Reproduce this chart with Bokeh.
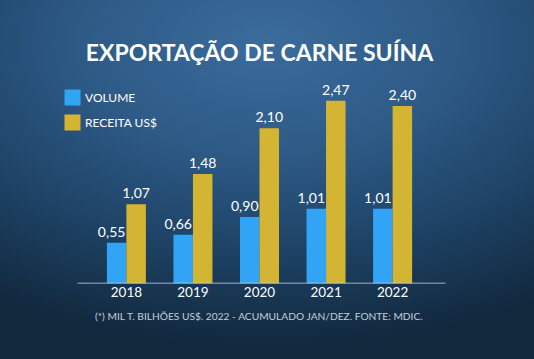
from bokeh.plotting import figure
from bokeh.models import (ColumnDataSource, LabelSet, Legend, LegendItem, Title,
                          FactorRange, Range1d, BoxAnnotation)
from bokeh.core.properties import value
from bokeh.transform import dodge
from bokeh.embed import file_html
from bokeh.resources import INLINE

years = ["2018", "2019", "2020", "2021", "2022"]
volume = [0.55, 0.66, 0.90, 1.01, 1.01]
receita = [1.07, 1.48, 2.10, 2.47, 2.40]

def fmt(v):
    return f"{v:.2f}".replace(".", ",")

source = ColumnDataSource(data=dict(
    years=years,
    volume=volume,
    receita=receita,
    volume_txt=[fmt(v) for v in volume],
    receita_txt=[fmt(v) for v in receita],
))

FONT = "Lato"
BLUE = "#31a4f6"
GOLD = "#d4b433"

p = figure(
    x_range=FactorRange(*years, range_padding=0.49, range_padding_units="absolute"),
    y_range=Range1d(0, 2.88),
    width=534, height=359,
    output_backend="svg", toolbar_location=None,
    min_border_left=60, min_border_right=76, min_border_top=70, min_border_bottom=76,
)
p.styles = {"background": "radial-gradient(ellipse 95% 85% at 50% 12%, #3b6c9c 0%, #2d5985 38%, #1d4163 70%, #11283d 100%)"}
p.background_fill_color = None
p.border_fill_color = None
p.outline_line_color = None

r1 = p.vbar(x=dodge("years", -0.1465, range=p.x_range), top="volume", width=0.293,
            source=source, fill_color=BLUE, line_color=None)
r2 = p.vbar(x=dodge("years", 0.1465, range=p.x_range), top="receita", width=0.293,
            source=source, fill_color=GOLD, line_color=None)

lab1 = LabelSet(x=dodge("years", -0.1465, range=p.x_range), y="volume", text="volume_txt",
                source=source, text_align="center", text_baseline="bottom",
                x_offset=-5, y_offset=6, text_color="white",
                text_font=value(FONT), text_font_size="14px")
lab2 = LabelSet(x=dodge("years", 0.1465, range=p.x_range), y="receita", text="receita_txt",
                source=source, text_align="center", text_baseline="bottom",
                x_offset=0, y_offset=6, text_color="white",
                text_font=value(FONT), text_font_size="14px")
p.add_layout(lab1)
p.add_layout(lab2)

# baseline under the bars
baseline = BoxAnnotation(left=17, right=385, left_units="screen", right_units="screen",
                         bottom=0, top=0, fill_alpha=0,
                         line_color="#d0dae6", line_width=1.5, line_alpha=1)
p.add_layout(baseline)

p.xgrid.grid_line_color = None
p.ygrid.grid_line_color = None
p.yaxis.visible = False
xa = p.xaxis[0]
xa.axis_line_color = None
xa.major_tick_line_color = None
xa.minor_tick_line_color = None
xa.major_label_standoff = -3
xa.major_label_text_color = "white"
xa.major_label_text_font = FONT
xa.major_label_text_font_size = "13.5px"

p.title.text = "EXPORTAÇÃO DE CARNE SUÍNA"
p.title.align = "center"
p.title.text_color = "white"
p.title.text_font = FONT
p.title.text_font_style = "bold"
p.title.text_font_size = "23px"
p.title.standoff = 9

foot = Title(text="(*) MIL T. BILHÕES US$. 2022 - ACUMULADO JAN/DEZ. FONTE: MDIC.",
             align="center", text_color="#c3cfdb", text_font=FONT,
             text_font_style="normal", text_font_size="10.2px", standoff=16)
p.add_layout(foot, "below")

legend = Legend(items=[LegendItem(label="VOLUME", renderers=[r1]),
                       LegendItem(label="RECEITA US$", renderers=[r2])],
                location=(2, 151), orientation="vertical",
                background_fill_alpha=0, border_line_color=None,
                padding=0, margin=0, spacing=5,
                glyph_width=20, glyph_height=20, label_height=20,
                label_standoff=3, label_text_color="white",
                label_text_font=FONT, label_text_font_size="12px")
p.add_layout(legend)

html = file_html(p, INLINE)
html = html.replace("</head>",
                    "<style>html,body{margin:0;padding:0;overflow:hidden;background:#1c3d5e;}</style></head>", 1)
open("out.html", "w").write(html)
